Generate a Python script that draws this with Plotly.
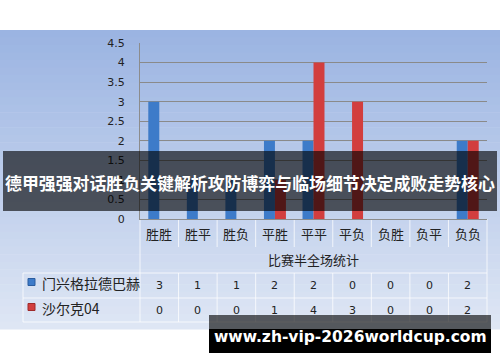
import plotly.graph_objects as go

categories = ["胜胜", "胜平", "胜负", "平胜", "平平", "平负", "负胜", "负平", "负负"]
series_names = ["门兴格拉德巴赫", "沙尔克04"]
team_a = [3, 1, 1, 2, 2, 0, 0, 0, 2]
team_b = [0, 0, 0, 1, 4, 3, 0, 0, 2]
y_ticks = [0, 0.5, 1, 1.5, 2, 2.5, 3, 3.5, 4, 4.5]
x_title = "比赛半全场统计"
banner_text = "德甲强强对话胜负关键解析攻防博弈与临场细节决定成败走势核心"
watermark_text = "www.zh-vip-2026worldcup.com"

W, H = 500, 362
L, R, T, B = 140, 487, 43, 219


def px(x):
    return (x - L) / (R - L)


def py(y):
    return (B - y) / (B - T)


def mix(c1, c2, t):
    return "rgb(%d,%d,%d)" % tuple(round(a + (b - a) * t) for a, b in zip(c1, c2))


fig = go.Figure()
fig.add_trace(go.Bar(x=categories, y=team_a, name=series_names[0],
                     marker=dict(color="#3d7bc9", line=dict(width=0))))
fig.add_trace(go.Bar(x=categories, y=team_b, name=series_names[1],
                     marker=dict(color="#d23e3e", line=dict(width=0))))

shapes = []
# gradient background
top_c, bot_c = (155, 180, 226), (222, 230, 244)
n = 40
y0, y1 = 30, 329
for i in range(n):
    a = y0 + (y1 - y0) * i / n
    b = y0 + (y1 - y0) * (i + 1) / n
    shapes.append(dict(type="rect", xref="paper", yref="paper", layer="below",
                       x0=px(0), x1=px(W), y0=py(a), y1=py(b + 0.6),
                       fillcolor=mix(top_c, bot_c, i / (n - 1)), line=dict(width=0)))

line_c = "rgba(255,255,255,0.75)"
ncat = len(categories)
cw = (R - L) / ncat
for k in range(ncat + 1):
    xx = L + k * cw
    shapes.append(dict(type="line", xref="paper", yref="paper", layer="below",
                       x0=px(xx), x1=px(xx), y0=py(B), y1=py(247),
                       line=dict(color=line_c, width=1)))
    shapes.append(dict(type="line", xref="paper", yref="paper", layer="below",
                       x0=px(xx), x1=px(xx), y0=py(273), y1=py(322),
                       line=dict(color=line_c, width=1)))
shapes.append(dict(type="line", xref="paper", yref="paper", layer="below",
                   x0=px(L), x1=px(L), y0=py(247), y1=py(273),
                   line=dict(color=line_c, width=1)))
shapes.append(dict(type="line", xref="paper", yref="paper", layer="below",
                   x0=px(R), x1=px(R), y0=py(247), y1=py(273),
                   line=dict(color=line_c, width=1)))
for yy in [273, 298, 322]:
    shapes.append(dict(type="line", xref="paper", yref="paper", layer="below",
                       x0=px(23), x1=px(R), y0=py(yy), y1=py(yy),
                       line=dict(color=line_c, width=1)))
shapes.append(dict(type="line", xref="paper", yref="paper", layer="below",
                   x0=px(23), x1=px(23), y0=py(273), y1=py(322),
                   line=dict(color=line_c, width=1)))
for yy, col, lc in [(282, "#3d7bc9", "#2b5c9e"), (307, "#d23e3e", "#9e2a2a")]:
    shapes.append(dict(type="rect", xref="paper", yref="paper", layer="above",
                       x0=px(28), x1=px(35), y0=py(yy - 3.5), y1=py(yy + 3.5),
                       fillcolor=col, line=dict(color=lc, width=1)))
# banner
shapes.append(dict(type="rect", xref="paper", yref="paper", layer="above",
                   x0=px(3), x1=px(497), y0=py(151), y1=py(211),
                   fillcolor="rgba(0,0,0,0.62)", line=dict(width=0)))
# watermark box
shapes.append(dict(type="rect", xref="paper", yref="paper", layer="above",
                   x0=px(209), x1=px(491), y0=py(315), y1=py(329),
                   fillcolor="rgba(0,0,0,0.62)", line=dict(width=0)))
shapes.append(dict(type="rect", xref="paper", yref="paper", layer="above",
                   x0=px(209), x1=px(491), y0=py(329), y1=py(353),
                   fillcolor="#000000", line=dict(width=0)))

ann = []
txt_font = dict(family="Noto Sans CJK SC", size=13, color="#222222")
num_font = dict(family="DejaVu Sans", size=11, color="#222222")
for c in categories:
    ann.append(dict(x=c, xref="x", y=py(233), yref="paper", text=c, showarrow=False,
                    font=txt_font, xanchor="center", yanchor="middle"))
ann.append(dict(x=px((L + R) / 2), xref="paper", y=py(259), yref="paper", text=x_title,
                showarrow=False, font=txt_font, xanchor="center", yanchor="middle"))
for vals, yy in [(team_a, 285.5), (team_b, 310)]:
    for c, v in zip(categories, vals):
        ann.append(dict(x=c, xref="x", y=py(yy), yref="paper", text=str(v), showarrow=False,
                        font=num_font, xanchor="center", yanchor="middle"))
for name, yy in zip(series_names, [283, 308]):
    ann.append(dict(x=px(40), xref="paper", y=py(yy), yref="paper", text=name, showarrow=False,
                    font=dict(family="Noto Sans CJK SC", size=14, color="#222222"),
                    xanchor="left", yanchor="middle"))
ann.append(dict(x=px(250), xref="paper", y=py(182), yref="paper", text="<b>" + banner_text + "</b>",
                showarrow=False, font=dict(family="Noto Sans CJK SC", size=16.9, color="#ffffff"),
                xanchor="center", yanchor="middle"))
ann.append(dict(x=px(350), xref="paper", y=py(337), yref="paper", text="<b>" + watermark_text + "</b>",
                showarrow=False, font=dict(family="DejaVu Sans", size=15.5, color="#ffffff"),
                xanchor="center", yanchor="middle"))

fig.update_layout(
    width=W, height=H,
    margin=dict(l=L, r=W - R, t=T, b=H - B, pad=0),
    paper_bgcolor="#ffffff", plot_bgcolor="rgba(0,0,0,0)",
    barmode="group", bargap=0.43, bargroupgap=0,
    showlegend=False,
    shapes=shapes, annotations=ann,
    xaxis=dict(showticklabels=False, showgrid=False, zeroline=False, ticks="",
               showline=True, linecolor="#8c8c8c", linewidth=1, range=[-0.5, 8.5]),
    yaxis=dict(range=[0, 4.5], tickvals=y_ticks, ticktext=[("%g" % v) for v in y_ticks],
               showgrid=True, gridcolor="#8a8a8a", gridwidth=1.2, zeroline=False,
               showline=True, linecolor="#8c8c8c", linewidth=1, ticks="",
               ticklabelstandoff=12,
               tickfont=dict(family="DejaVu Sans", size=11, color="#222222")),
)

fig.write_html("out.html")
